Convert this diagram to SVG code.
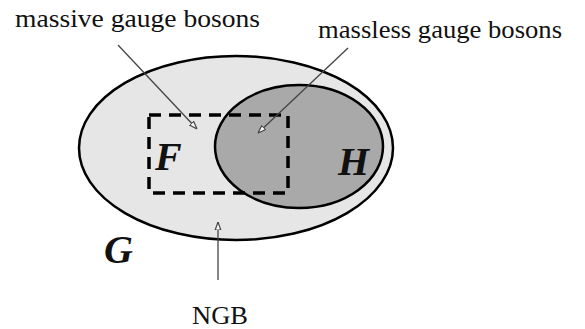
<svg xmlns="http://www.w3.org/2000/svg" width="585" height="329" viewBox="0 0 585 329">
<style>
.lbl{font-family:"Liberation Serif","Times New Roman",serif;font-size:25px;fill:#111}
.sym{font-family:"Liberation Serif","Times New Roman",serif;font-size:40px;font-weight:bold;font-style:italic;fill:#111}
.conn{stroke:#444;stroke-width:1.3;fill:none}
</style>
<defs>
<marker id="oa" viewBox="0 0 10 10" refX="10" refY="5" markerWidth="8" markerHeight="8" markerUnits="userSpaceOnUse" orient="auto">
<path d="M0,1.5 L10,5 L0,8.5 Z" fill="#fff" stroke="#444" stroke-width="1.5"/>
</marker>
</defs>
<rect width="585" height="329" fill="#fff"/>
<g id="G">
<ellipse cx="236" cy="148" rx="157" ry="92" fill="#e6e6e6" stroke="#000" stroke-width="2.5"/>
<text class="sym" x="104" y="263">G</text>
</g>
<g id="H">
<ellipse cx="299" cy="146.5" rx="84" ry="61.5" fill="#a9a9a9" stroke="#000" stroke-width="2.5"/>
<text class="sym" x="338" y="175">H</text>
</g>
<g id="F">
<rect x="149" y="115" width="139" height="78" fill="none" stroke="#000" stroke-width="3.5" stroke-dasharray="12 8"/>
<text class="sym" x="155" y="170">F</text>
</g>
<g id="labels">
<text class="lbl" x="15" y="27" textLength="245" lengthAdjust="spacingAndGlyphs">massive gauge bosons</text>
<text class="lbl" x="318" y="38" textLength="244" lengthAdjust="spacingAndGlyphs">massless gauge bosons</text>
<text class="lbl" x="192" y="324" textLength="56" lengthAdjust="spacingAndGlyphs">NGB</text>
</g>
<g id="connectors">
<line class="conn" x1="118" y1="45" x2="197" y2="129" marker-end="url(#oa)"/>
<line class="conn" x1="348" y1="48" x2="258" y2="133" marker-end="url(#oa)"/>
<line class="conn" x1="218" y1="280" x2="218" y2="222" marker-end="url(#oa)"/>
</g>
</svg>
